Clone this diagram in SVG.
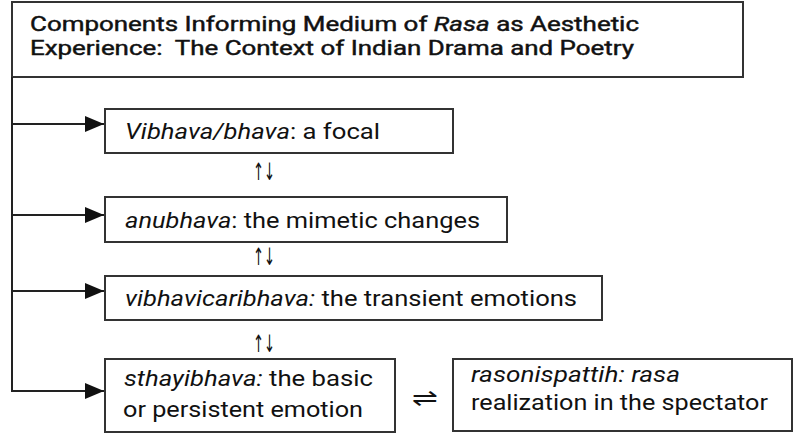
<svg xmlns="http://www.w3.org/2000/svg" width="793" height="433" viewBox="0 0 793 433">
<style>
  .box { fill: #fff; stroke: #333; stroke-width: 2; }
  .t { font-family: Roboto, "Liberation Sans", sans-serif; font-size: 21.5px; fill: #111; }
  .title { font-family: Roboto, "Liberation Sans", sans-serif; font-size: 20.5px; font-weight: 400; fill: #111; stroke: #111; stroke-width: 0.45; }
  .i { font-style: italic; }
  .sym { font-family: "DejaVu Sans", sans-serif; font-size: 24px; fill: #111; }
  .conn { stroke: #222; stroke-width: 2; fill: none; }
</style>
<defs>
  <marker id="ah" markerUnits="userSpaceOnUse" markerWidth="20" markerHeight="18" refX="19" refY="8" orient="auto">
    <path d="M0,0 L19,8 L0,16 Z" fill="#111"/>
  </marker>
</defs>
<rect width="793" height="433" fill="#fff"/>
<g id="title">
  <rect class="box" x="12" y="2" width="731" height="75"/>
  <text class="title" x="30" y="31" textLength="609" lengthAdjust="spacingAndGlyphs">Components Informing Medium of <tspan class="i">Rasa</tspan> as Aesthetic</text>
  <text class="title" x="30" y="55" textLength="604" lengthAdjust="spacingAndGlyphs" xml:space="preserve">Experience:  The Context of Indian Drama and Poetry</text>
</g>
<g id="connectors">
  <path class="conn" d="M12,77 V392"/>
  <path class="conn" d="M12,124 H104" marker-end="url(#ah)"/>
  <path class="conn" d="M12,215 H104" marker-end="url(#ah)"/>
  <path class="conn" d="M12,291 H104" marker-end="url(#ah)"/>
  <path class="conn" d="M12,391 H104" marker-end="url(#ah)"/>
  <text class="sym" x="253" y="180" textLength="22" lengthAdjust="spacingAndGlyphs">↑↓</text>
  <text class="sym" x="253" y="265" textLength="22" lengthAdjust="spacingAndGlyphs">↑↓</text>
  <text class="sym" x="253" y="352" textLength="22" lengthAdjust="spacingAndGlyphs">↑↓</text>
  <text class="sym" x="412" y="406" textLength="26" lengthAdjust="spacingAndGlyphs">⇌</text>
</g>
<g id="vibhava">
  <rect class="box" x="105" y="109" width="348" height="44"/>
  <text class="t" x="125" y="139" textLength="255" lengthAdjust="spacingAndGlyphs"><tspan class="i">Vibhava/bhava</tspan>: a focal</text>
</g>
<g id="anubhava">
  <rect class="box" x="105" y="197" width="402" height="45"/>
  <text class="t" x="125" y="228" textLength="355" lengthAdjust="spacingAndGlyphs"><tspan class="i">anubhava</tspan>: the mimetic changes</text>
</g>
<g id="vibhavicaribhava">
  <rect class="box" x="105" y="276" width="497" height="44"/>
  <text class="t" x="125" y="306" textLength="452" lengthAdjust="spacingAndGlyphs"><tspan class="i">vibhavicaribhava:</tspan> the transient emotions</text>
</g>
<g id="sthayibhava">
  <rect class="box" x="105" y="359" width="290" height="73"/>
  <text class="t" x="124" y="386" textLength="249" lengthAdjust="spacingAndGlyphs"><tspan class="i">sthayibhava:</tspan> the basic</text>
  <text class="t" x="123" y="417" textLength="240" lengthAdjust="spacingAndGlyphs">or persistent emotion</text>
</g>
<g id="rasonispattih">
  <rect class="box" x="453" y="359" width="339" height="72"/>
  <text class="t i" x="471" y="382" textLength="209" lengthAdjust="spacingAndGlyphs">rasonispattih: rasa</text>
  <text class="t" x="471" y="410" textLength="297" lengthAdjust="spacingAndGlyphs">realization in the spectator</text>
</g>
</svg>
